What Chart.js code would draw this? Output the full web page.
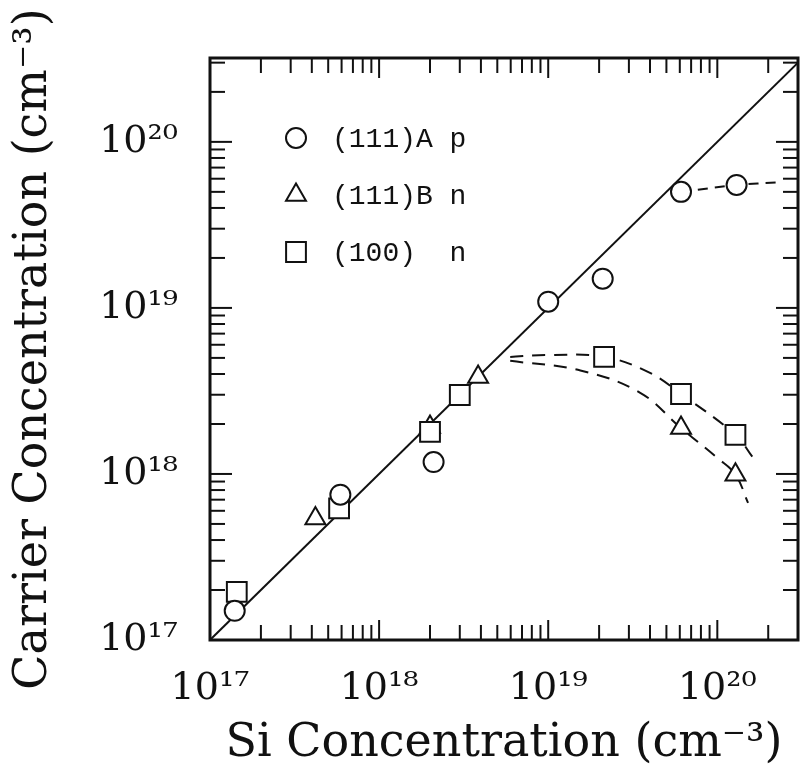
<!DOCTYPE html>
<html>
<head>
<meta charset="utf-8">
<title>Carrier vs Si concentration</title>
<script src="https://cdn.jsdelivr.net/npm/chart.js"></script>
<style>
  html, body { margin: 0; padding: 0; background: #fff; }
  #chart { display: block; }
</style>
</head>
<body>
<canvas id="chart" width="800" height="772"></canvas>
<script>
'use strict';

const ink = '#111';

// (111)A, p-type
const aSi = [1.4e17, 5.9e17, 2.1e18, 1.0e19, 2.1e19, 6.1e19, 1.3e20];
const aCarrier = [1.5e17, 7.5e17, 1.18e18, 1.09e19, 1.5e19, 5.0e19, 5.5e19];
// (111)B, n-type
const bSi = [4.2e17, 2.0e18, 3.85e18, 6.1e19, 1.28e20];
const bCarrier = [5.4e17, 1.92e18, 3.84e18, 1.89e18, 9.9e17];
// (100), n-type
const cSi = [1.44e17, 5.8e17, 2.0e18, 3.0e18, 2.14e19, 6.1e19, 1.28e20];
const cCarrier = [1.95e17, 6.2e17, 1.79e18, 2.99e18, 5.07e18, 3.03e18, 1.72e18];

// guide lines
const unitSi = [1e17, 3e20];
const unitCarrier = [1e17, 3e20];
const aFitSi = [6.1e19, 1.3e20, 2.3e20];
const aFitCarrier = [5.0e19, 5.5e19, 5.7e19];
const cFitSi = [5.96e18, 9.6e18, 2.14e19, 4.0e19, 6.1e19, 1.28e20, 1.61e20];
const cFitCarrier = [5.07e18, 5.2e18, 5.07e18, 4.06e18, 3.03e18, 1.72e18, 1.27e18];
const bFitSi = [5.96e18, 1.55e19, 3.5e19, 6.1e19, 1.0e20, 1.28e20, 1.52e20];
const bFitCarrier = [4.8e18, 4.2e18, 3.08e18, 1.89e18, 1.25e18, 9.9e17, 6.7e17];

const tickExponents = [17, 18, 19, 20];
const tickLabels = ['10\u00b9\u2077', '10\u00b9\u2078', '10\u00b9\u2079', '10\u00b2\u2070'];

const seriesNames = ['(111)A p', '(111)B n', '(100)  n'];
const seriesStyles = ['circle', 'triangle', 'rect'];
const seriesRadius = [10, 11.5, 14];
// circles on top, squares over triangles
const seriesOrder = [0, 2, 1];

function pairs(xs, ys) {
    return xs.map((x, i) => ({x: x, y: ys[i]}));
}

function decadeLabel(value) {
    const e = Math.log10(value);
    if (Math.abs(e - Math.round(e)) > 1e-9) return '';
    const i = tickExponents.indexOf(Math.round(e));
    return i < 0 ? '' : tickLabels[i];
}

function markers(xs, ys, i) {
    return {
        label: seriesNames[i],
        data: pairs(xs, ys),
        pointStyle: seriesStyles[i],
        pointRadius: seriesRadius[i],
        pointHoverRadius: seriesRadius[i],
        pointBorderWidth: 2,
        pointBorderColor: ink,
        pointBackgroundColor: '#fff',
        showLine: false,
        order: seriesOrder[i]
    };
}

function guide(xs, ys, dash, tension) {
    return {
        data: pairs(xs, ys),
        showLine: true,
        pointRadius: 0,
        borderColor: ink,
        borderWidth: 2,
        borderDash: dash,
        tension: tension,
        order: 3
    };
}

// inward tick marks on all four sides plus the box
const frameTicks = {
    id: 'frameTicks',
    afterDatasetsDraw(chart) {
        const {ctx, chartArea: a, scales: {x, y}} = chart;
        ctx.save();
        ctx.strokeStyle = ink;
        ctx.lineWidth = 2;
        const seg = (x1, y1, x2, y2) => {
            ctx.beginPath();
            ctx.moveTo(x1, y1);
            ctx.lineTo(x2, y2);
            ctx.stroke();
        };
        const marks = scale => {
            const out = [];
            for (let e = Math.floor(Math.log10(scale.min)); e <= Math.ceil(Math.log10(scale.max)); e++) {
                for (let m = 1; m <= 9; m++) {
                    const v = m * Math.pow(10, e);
                    if (v >= scale.min * 0.999 && v <= scale.max * 1.001) out.push({v: v, major: m === 1});
                }
            }
            return out;
        };
        marks(x).forEach(t => {
            const px = x.getPixelForValue(t.v);
            const len = t.major ? 20 : 15;
            seg(px, a.bottom, px, a.bottom - len);
            seg(px, a.top, px, a.top + len);
        });
        marks(y).forEach(t => {
            const py = y.getPixelForValue(t.v);
            const len = t.major ? 22 : 15;
            seg(a.left, py, a.left + len, py);
            seg(a.right, py, a.right - len, py);
        });
        ctx.lineWidth = 3;
        ctx.strokeRect(a.left, a.top, a.right - a.left, a.bottom - a.top);
        ctx.restore();
    }
};

// key drawn inside the plot, upper left
const inlineKey = {
    id: 'inlineKey',
    afterDatasetsDraw(chart) {
        const {ctx, chartArea: a} = chart;
        ctx.save();
        ctx.font = '28px "Liberation Mono"';
        ctx.textBaseline = 'middle';
        ctx.lineWidth = 2;
        ctx.strokeStyle = ink;
        seriesNames.forEach((name, i) => {
            const cx = a.left + 86;
            const cy = a.top + 80 + i * 57;
            const r = seriesRadius[i];
            ctx.beginPath();
            if (seriesStyles[i] === 'circle') {
                ctx.arc(cx, cy, r, 0, Math.PI * 2);
            } else if (seriesStyles[i] === 'triangle') {
                ctx.moveTo(cx, cy - r);
                ctx.lineTo(cx + r * Math.sin(Math.PI / 3), cy + r / 2);
                ctx.lineTo(cx - r * Math.sin(Math.PI / 3), cy + r / 2);
                ctx.closePath();
            } else {
                const s = r * Math.SQRT1_2;
                ctx.rect(cx - s, cy - s, 2 * s, 2 * s);
            }
            ctx.stroke();
            ctx.fillStyle = ink;
            ctx.fillText(name, a.left + 122, cy + 2);
        });
        ctx.restore();
    }
};

const ctx = document.getElementById('chart').getContext('2d');
new Chart(ctx, {
    type: 'scatter',
    data: {
        datasets: [
            markers(aSi, aCarrier, 0),
            markers(bSi, bCarrier, 1),
            markers(cSi, cCarrier, 2),
            guide(unitSi, unitCarrier, [], 0),
            guide(aFitSi, aFitCarrier, [10, 7], 0.3),
            guide(cFitSi, cFitCarrier, [13, 9], 0.4),
            guide(bFitSi, bFitCarrier, [13, 9], 0.4)
        ]
    },
    options: {
        responsive: false,
        animation: false,
        devicePixelRatio: 1,
        layout: {autoPadding: false, padding: {top: 58, right: 2, left: 0, bottom: 0}},
        plugins: {legend: {display: false}, tooltip: {enabled: false}},
        scales: {
            x: {
                type: 'logarithmic',
                min: 1e17,
                max: 3e20,
                grid: {display: false, drawTicks: false},
                border: {display: false},
                ticks: {
                    autoSkip: false,
                    maxRotation: 0,
                    padding: 26,
                    color: ink,
                    font: {family: 'DejaVu Serif', size: 38},
                    callback: decadeLabel
                },
                title: {
                    display: true,
                    text: 'Si Concentration (cm\u207b\u00b3)',
                    color: ink,
                    font: {family: 'DejaVu Serif', size: 46},
                    padding: {top: 0, bottom: 0}
                },
                afterFit(scale) {
                    scale.height = 132;
                    scale.paddingLeft = 0;
                    scale.paddingRight = 0;
                }
            },
            y: {
                type: 'logarithmic',
                min: 1e17,
                max: 3.2e20,
                grid: {display: false, drawTicks: false},
                border: {display: false},
                ticks: {
                    autoSkip: false,
                    padding: 32,
                    color: ink,
                    font: {family: 'DejaVu Serif', size: 38},
                    callback: decadeLabel
                },
                title: {
                    display: true,
                    text: 'Carrier Concentration (cm\u207b\u00b3)',
                    color: ink,
                    font: {family: 'DejaVu Serif', size: 46},
                    padding: {top: 6, bottom: 0}
                },
                afterFit(scale) {
                    scale.width = 210;
                    scale.paddingTop = 0;
                    scale.paddingBottom = 0;
                }
            }
        }
    },
    plugins: [frameTicks, inlineKey]
});
</script>
</body>
</html>
